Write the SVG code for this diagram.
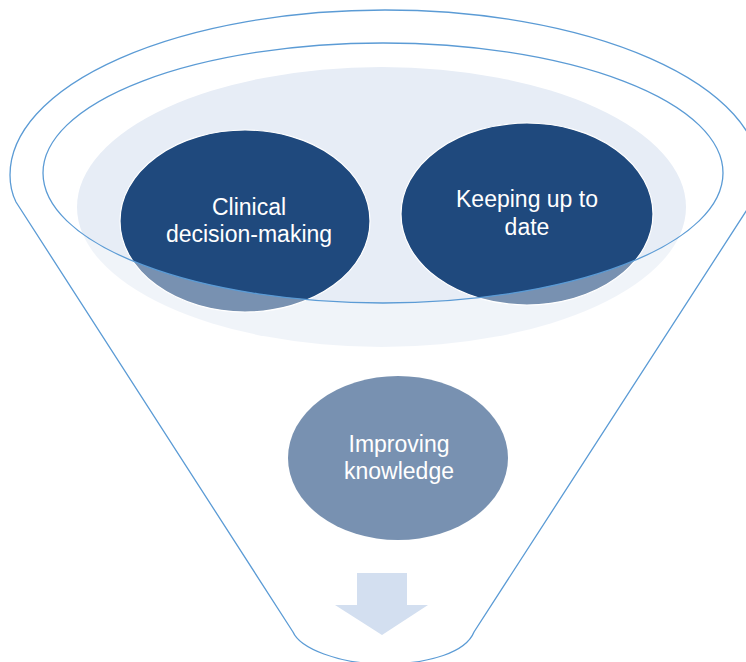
<svg xmlns="http://www.w3.org/2000/svg" width="746" height="662" viewBox="0 0 746 662">
<style>
.dark{fill:#1F497D;stroke:#FFFFFF;stroke-width:1.2}
.lbl{font-family:"Liberation Sans","Open Sans","DejaVu Sans",sans-serif;font-size:23px;fill:#FFFFFF;text-anchor:middle}
.line{fill:none;stroke:#5B9BD5;stroke-width:1.3}
</style>
<rect width="746" height="662" fill="#FFFFFF"/>
<g id="bowl">
<ellipse cx="381.5" cy="207" rx="304.5" ry="140" fill="#E7EDF6"/>
</g>
<g id="node-clinical">
<ellipse class="dark" cx="245" cy="221" rx="125" ry="91"/>
<text class="lbl"><tspan x="249" y="215">Clinical</tspan><tspan x="249" y="242">decision-making</tspan></text>
</g>
<g id="node-keeping">
<ellipse class="dark" cx="527" cy="214" rx="126" ry="91"/>
<text class="lbl"><tspan x="527" y="207">Keeping up to</tspan><tspan x="527" y="235">date</tspan></text>
</g>
<g id="node-improving">
<ellipse cx="398" cy="458" rx="110" ry="82" fill="#1F497D"/>
<text class="lbl"><tspan x="399" y="452">Improving</tspan><tspan x="399" y="479">knowledge</tspan></text>
</g>
<g id="overlay">
<path fill="#FFFFFF" fill-opacity="0.4" fill-rule="evenodd" d="M 293 632 L 16 202 Q 10 190 10 175 A 375 165 0 0 1 760 175 Q 760 190 752 202 L 474 632 C 466 652 430 664 384 664 C 338 664 300 648 293 632 Z M 43 173 A 340 130 0 1 0 723 173 A 340 130 0 1 0 43 173 Z"/>
</g>
<g id="connectors">
<polygon fill="#D3DFF0" points="357,573 407,573 407,605 428,605 382,635 335,605 357,605"/>
</g>
<g id="funnel">
<path class="line" d="M 293 632 L 16 202 Q 10 190 10 175 A 375 165 0 0 1 760 175 Q 760 190 752 202 L 474 632 C 466 652 430 664 384 664 C 338 664 300 648 293 632 Z"/>
<ellipse class="line" cx="383" cy="173" rx="340" ry="130"/>
</g>
</svg>
